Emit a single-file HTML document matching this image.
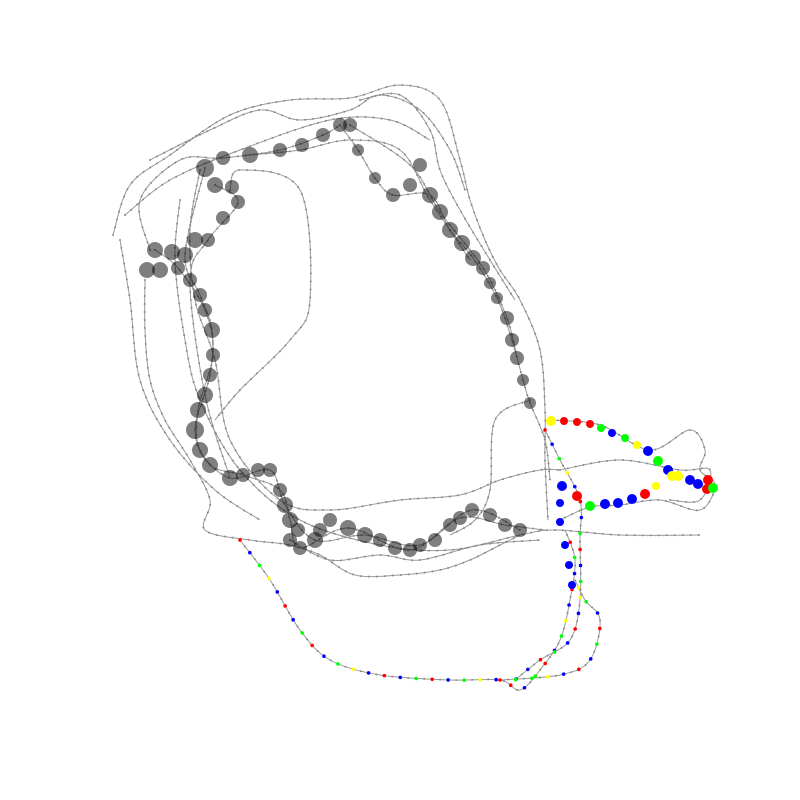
<!DOCTYPE html>
<html><head><meta charset="utf-8"><style>
html,body{margin:0;padding:0;background:#fff;width:800px;height:800px;overflow:hidden}
svg{display:block}
</style></head><body>
<svg id="chart" width="800" height="800" viewBox="0 0 800 800" xmlns="http://www.w3.org/2000/svg">
<g id="edges"></g>
<g id="smalldots"></g>
<g id="nodes"></g>
</svg>
<script>
const greyX=[350,358,375,393,410,420,430,440,450,462,473,483,490,497,507,512,517,523,530,340,323,302,280,250,223,205,215,232,238,223,208,195,185,172,155,147,160,178,190,200,205,212,213,210,205,198,195,200,210,230,243,258,270,280,285,290,298,290,300,315,320,330,348,365,380,395,410,420,435,450,460,472,490,505,520];
const greyY=[125,150,178,195,185,165,195,212,230,243,258,268,283,298,318,340,358,380,403,125,135,145,150,155,158,168,185,187,202,218,240,240,255,252,250,270,270,268,280,295,310,330,355,375,395,410,430,450,465,478,475,470,470,490,505,520,530,540,548,540,530,520,528,535,540,548,550,545,540,525,518,510,515,525,530];
const greyR=[7,6,6,7,7,7,8,8,8,8,8,7,6,6,7,7,7,6,6,7,7,7,7,8,7,9,8,7,7,7,7,8,8,8,8,8,8,7,7,7,7,8,7,7,8,8,9,8,8,8,7,7,7,7,8,8,7,7,7,8,7,7,8,8,7,7,7,7,7,7,7,7,7,7,7];
const colX=[551,564,577,590,601,612,625,637,648,658,668,678,672,690,698,708,707,713,645,632,618,605,590,577,562,560,560,656,565,569,572];
const colY=[421,421,422,424,428,433,438,445,451,461,470,476,476,480,484,480,489,488,494,499,503,504,506,496,486,503,522,486,545,565,585];
const colC=["yellow","red","red","red","lime","blue","lime","yellow","blue","lime","blue","yellow","yellow","blue","blue","red","red","lime","red","blue","blue","blue","lime","red","blue","blue","blue","yellow","blue","blue","blue"];
const colR=[5,4,4,4,4,4,4,4,5,5,5,5,5,5,5,5,5,5,5,5,5,5,5,5,5,4,4,4,4,4,4];
const strands=[
[[113,235],[130,185],[170,155],[230,115],[290,100],[350,98],[400,85],[440,100],[460,160],[470,200],[485,240],[500,270],[520,300],[540,350],[545,410],[545,460],[548,520]],
[[145,280],[145,330],[150,380],[165,420],[190,460],[210,500],[205,530],[250,540],[290,545],[320,555],[355,575],[400,575],[440,570],[470,560],[500,545],[520,535]],
[[120,240],[130,300],[140,380],[170,440],[215,490],[260,520]],
[[240,540],[270,580],[300,630],[330,660],[380,675],[450,680],[500,680],[520,690],[540,670],[560,640],[570,600],[575,560],[565,530]],
[[500,680],[560,675],[590,660],[600,620],[585,600],[575,580]],
[[550,420],[600,425],[650,450],[690,430],[705,450],[700,470],[715,485],[700,510],[660,500],[620,505],[590,507],[560,520]],
[[530,400],[495,420],[490,490],[475,520],[450,535]],
[[250,155],[300,150],[350,140],[400,150],[430,200],[470,260]],
[[230,190],[240,170],[300,190],[310,300],[290,340],[240,390],[215,420]],
[[200,170],[190,230],[195,300],[215,360],[230,440],[280,500],[330,510],[400,500],[460,495],[500,480],[540,470],[560,470]],
[[150,160],[210,130],[260,110],[300,120],[350,110],[380,95],[420,110],[450,150],[465,190]],
[[125,215],[170,180],[240,150],[330,120],[390,120],[430,140]],
[[180,200],[175,260],[185,340],[200,400],[240,470],[300,520],[380,545],[450,550],[520,535],[555,530],[620,535],[700,535]],
[[545,430],[560,460],[580,500],[580,540],[580,600],[570,640],[540,660],[515,680]],
[[560,470],[620,460],[680,470],[710,470],[700,500],[670,500]],
[[340,125],[358,150],[375,178],[393,195],[430,195],[450,230],[473,258],[497,298],[512,340],[523,380],[530,403],[545,440],[550,480]],
[[350,125],[410,165],[440,212],[483,268],[507,318],[517,358]],
[[205,168],[185,255],[200,295],[212,330],[210,375],[195,430],[210,465],[243,475],[280,490],[290,520],[300,548],[348,528],[410,550],[460,518],[505,525],[545,530]],
[[155,250],[178,268],[205,310],[213,355],[198,410],[200,450],[230,478],[270,470],[285,505],[315,540],[365,535],[420,545],[472,510],[520,530]],
[[150,250],[140,200],[180,160],[223,158],[280,150],[323,135],[340,125]],
[[360,100],[400,95],[430,130],[440,170],[460,210],[490,260],[515,300]],
[[215,185],[238,202],[208,240],[190,280],[205,395],[230,478]],
[[290,540],[330,560],[380,555],[420,560],[480,545],[540,540]]
];
const smallColors=["red","blue","lime","yellow","blue","red","blue","lime"];
</script>
<script>
const xs=v=>v*1, ys=v=>v*1;
const NS="http://www.w3.org/2000/svg";
const edgesG=document.getElementById('edges'), dotsG=document.getElementById('smalldots'), nodesG=document.getElementById('nodes');
function cr(pts){
  let d="M"+xs(pts[0][0])+","+ys(pts[0][1]);
  for(let i=0;i<pts.length-1;i++){
    const p0=pts[Math.max(0,i-1)],p1=pts[i],p2=pts[i+1],p3=pts[Math.min(pts.length-1,i+2)];
    const c1x=xs(p1[0])+(xs(p2[0])-xs(p0[0]))/6,c1y=ys(p1[1])+(ys(p2[1])-ys(p0[1]))/6;
    const c2x=xs(p2[0])-(xs(p3[0])-xs(p1[0]))/6,c2y=ys(p2[1])-(ys(p3[1])-ys(p1[1]))/6;
    d+=" C"+c1x+","+c1y+" "+c2x+","+c2y+" "+xs(p2[0])+","+ys(p2[1]);
  }
  return d;
}
strands.forEach((s,si)=>{
  const p=document.createElementNS(NS,'path');
  p.setAttribute('d',cr(s));
  p.setAttribute('fill','none');p.setAttribute('stroke','#9a9a9a');p.setAttribute('stroke-width','1');
  
  
  edgesG.appendChild(p);
  const L=p.getTotalLength();
  const colored=(si===3||si===4||si===13);
  for(let l=0;l<L;l+=8){
    const pt=p.getPointAtLength(l);
    const c=document.createElementNS(NS,'circle');
    c.setAttribute('cx',pt.x);c.setAttribute('cy',pt.y);
    const k=Math.floor(l/8);
    if(colored && k%2===0){c.setAttribute('r',1.8);c.setAttribute('fill',smallColors[(k/2|0)%smallColors.length]);}
    else {c.setAttribute('r',1);c.setAttribute('fill','#888');}
    
    
    dotsG.appendChild(c);
  }
});
greyX.forEach((x,i)=>{
  const c=document.createElementNS(NS,'circle');
  c.setAttribute('cx',xs(x));c.setAttribute('cy',ys(greyY[i]));c.setAttribute('r',greyR[i]);
  c.setAttribute('fill','rgba(0,0,0,0.5)');
  
  
  nodesG.appendChild(c);
});
colX.forEach((x,i)=>{
  const c=document.createElementNS(NS,'circle');
  c.setAttribute('cx',xs(x));c.setAttribute('cy',ys(colY[i]));c.setAttribute('r',colR[i]);
  c.setAttribute('fill',colC[i]);
  
  
  nodesG.appendChild(c);
});
</script>
</body></html>
